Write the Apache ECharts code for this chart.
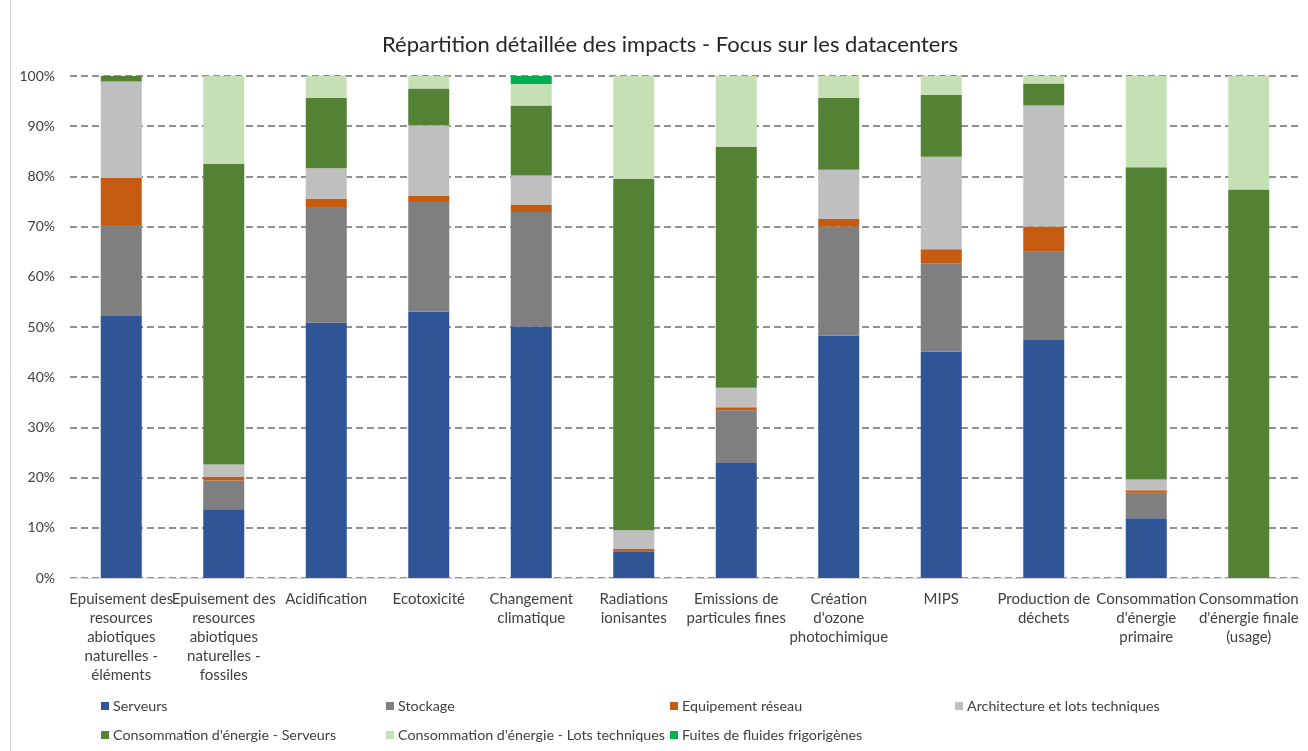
<!DOCTYPE html>
<html>
<head>
<meta charset="utf-8">
<script src="https://cdn.jsdelivr.net/npm/echarts@6/dist/echarts.min.js"></script>
<style>
html,body{margin:0;padding:0;background:#fff;}
#chart{width:1308px;height:751px;}
</style>
</head>
<body>
<div id="chart"></div>
<script>
const categories = [
  "Epuisement des\nresources\nabiotiques\nnaturelles -\néléments",
  "Epuisement des\nresources\nabiotiques\nnaturelles -\nfossiles",
  "Acidification",
  "Ecotoxicité",
  "Changement\nclimatique",
  "Radiations\nionisantes",
  "Emissions de\nparticules fines",
  "Création\nd'ozone\nphotochimique",
  "MIPS",
  "Production de\ndéchets",
  "Consommation\nd'énergie\nprimaire",
  "Consommation\nd'énergie finale\n(usage)"
];
const serveurs      = [52.2, 13.7, 50.9, 53.1, 50.1, 5.2, 22.9, 48.3, 45.1, 47.4, 11.9, 0];
const stockage      = [18.1, 5.7, 23.0, 21.8, 22.8, 0.2, 10.5, 21.7, 17.6, 17.6, 5.1, 0];
const equipement    = [9.4, 0.7, 1.6, 1.2, 1.5, 0.4, 0.6, 1.5, 2.8, 5.0, 0.5, 0];
const architecture  = [19.2, 2.5, 6.1, 14.1, 5.8, 3.7, 3.9, 9.8, 18.4, 24.1, 2.1, 0];
const energieServ   = [1.1, 59.9, 14.0, 7.3, 13.9, 70.0, 48.0, 14.3, 12.3, 4.4, 62.2, 77.4];
const energieLots   = [0, 17.5, 4.4, 2.5, 4.3, 20.5, 14.1, 4.4, 3.8, 1.5, 18.2, 22.6];
const fuites        = [0, 0, 0, 0, 1.6, 0, 0, 0, 0, 0, 0, 0];
const yTicks = [0, 10, 20, 30, 40, 50, 60, 70, 80, 90, 100];

const seriesDefs = [
  {name: "Serveurs", data: serveurs, color: "#2F5597"},
  {name: "Stockage", data: stockage, color: "#7F7F7F"},
  {name: "Equipement réseau", data: equipement, color: "#C55A11"},
  {name: "Architecture et lots techniques", data: architecture, color: "#BFBFBF"},
  {name: "Consommation d'énergie - Serveurs", data: energieServ, color: "#548235"},
  {name: "Consommation d'énergie - Lots techniques", data: energieLots, color: "#C5E0B4"},
  {name: "Fuites de fluides frigorigènes", data: fuites, color: "#00B050"}
];
const legendPos = [
  [101, 699], [386, 699], [670, 699], [955, 699],
  [101, 728], [386, 728], [670, 728]
];
const FONT = "Lato, 'Noto Sans', sans-serif";

const chart = echarts.init(document.getElementById('chart'), null, {renderer: 'canvas'});
chart.setOption({
  animation: false,
  backgroundColor: '#ffffff',
  title: {
    text: "Répartition détaillée des impacts - Focus sur les datacenters",
    left: 665, top: 29, textAlign: 'center',
    textStyle: {fontFamily: FONT, fontSize: 22, fontWeight: 'normal', color: '#262626'}
  },
  graphic: [{
    type: 'rect', shape: {x: 10.5, y: -1, width: 1400, height: 800},
    style: {fill: 'none', stroke: '#d9d9d9', lineWidth: 1}, silent: true, z: -1
  }],
  legend: seriesDefs.map((s, i) => ({
    data: [s.name],
    left: legendPos[i][0], top: legendPos[i][1],
    padding: 0, itemWidth: 8, itemHeight: 8, icon: 'rect',
    textStyle: {fontFamily: FONT, fontSize: 14.3, color: '#404040', padding: [0, 0, 0, -1]}
  })),
  grid: {left: 70, right: 8, top: 76, bottom: 173, containLabel: false},
  xAxis: {
    type: 'category',
    data: categories,
    axisLine: {lineStyle: {color: '#d9d9d9', width: 1}},
    axisTick: {show: false},
    axisLabel: {interval: 0, margin: 12, fontFamily: FONT, fontSize: 15, lineHeight: 19, color: '#404040'}
  },
  yAxis: {
    type: 'value', min: 0, max: 100, interval: 10,
    axisLine: {show: false}, axisTick: {show: false},
    axisLabel: {formatter: v => yTicks.includes(v) ? v + '%' : '', margin: 15, fontFamily: FONT, fontSize: 14, color: '#404040'},
    splitLine: {lineStyle: {color: '#6e6e6e', type: [7, 4], width: 1.5}}
  },
  series: seriesDefs.map(s => ({
    name: s.name, type: 'bar', stack: 'total', data: s.data,
    barWidth: 41,
    itemStyle: {color: s.color},
    emphasis: {disabled: true}
  }))
});
</script>
</body>
</html>
